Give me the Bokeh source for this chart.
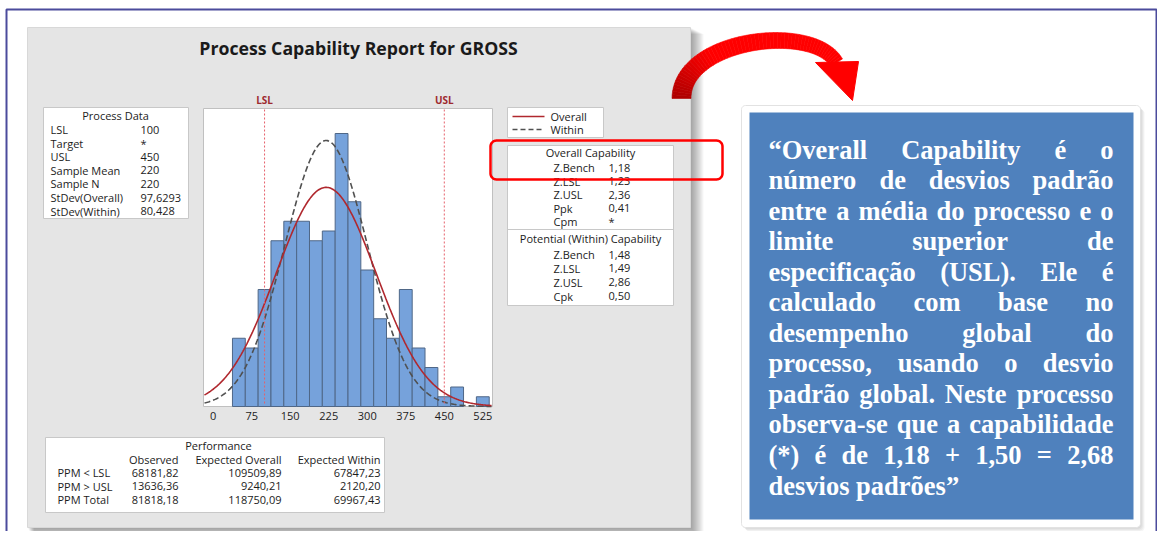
import numpy as np
from bokeh.plotting import figure
from bokeh.models import Range1d, LinearAxis, FixedTicker, ColumnDataSource
from bokeh.core.properties import value
from bokeh.embed import file_html
from bokeh.resources import INLINE

# ------------------------------------------------------------------ data
bin_centers = [50, 75, 100, 125, 150, 175, 200, 225, 250, 275,
               300, 325, 350, 375, 400, 425, 450, 475, 500, 525]
bin_counts = [7, 6, 12, 17, 19, 19, 17, 18, 28, 21,
              14, 9, 7, 12, 6, 4, 1, 2, 0, 1]
bin_width = 25
x_ticks = [0, 75, 150, 225, 300, 375, 450, 525]
spec_names = ["LSL", "USL"]
spec_values = [100, 450]
sample_mean = 220
sample_n = 220
stdev_overall = 97.6293
stdev_within = 80.428

title_text = "Process Capability Report for GROSS"
process_title = "Process Data"
process_labels = ["LSL", "Target", "USL", "Sample Mean", "Sample N",
                  "StDev(Overall)", "StDev(Within)"]
process_values = ["100", "*", "450", "220", "220", "97,6293", "80,428"]
legend_labels = ["Overall", "Within"]
overall_title = "Overall Capability"
overall_labels = ["Z.Bench", "Z.LSL", "Z.USL", "Ppk", "Cpm"]
overall_values = ["1,18", "1,23", "2,36", "0,41", "*"]
within_title = "Potential (Within) Capability"
within_labels = ["Z.Bench", "Z.LSL", "Z.USL", "Cpk"]
within_values = ["1,48", "1,49", "2,86", "0,50"]
perf_title = "Performance"
perf_columns = ["Observed", "Expected Overall", "Expected Within"]
perf_rows = ["PPM < LSL", "PPM > USL", "PPM Total"]
perf_observed = ["68181,82", "13636,36", "81818,18"]
perf_exp_overall = ["109509,89", "9240,21", "118750,09"]
perf_exp_within = ["67847,23", "2120,20", "69967,43"]
note_lines = [
    "\u201cOverall Capability \u00e9 o",
    "n\u00famero de desvios padr\u00e3o",
    "entre a m\u00e9dia do processo e o",
    "limite superior de",
    "especifica\u00e7\u00e3o (USL). Ele \u00e9",
    "calculado com base no",
    "desempenho global do",
    "processo, usando o desvio",
    "padr\u00e3o global. Neste processo",
    "observa-se que a capabilidade",
    "(*) \u00e9 de 1,18 + 1,50 = 2,68",
    "desvios padr\u00f5es\u201d",
]

# ------------------------------------------------------------------ page geometry (reference pixels)
W, H = 1157, 531
OX, OY = 0, 0
BOX_L, BOX_R, BOX_T, BOX_B = 203, 492, 108, 406
PX_AT_0, PX_AT_525 = 212.7, 482.3
KX = (PX_AT_525 - PX_AT_0) / 525.0
KY = 9.75

SANS = "Open Sans"
DARK = "#1c1c1c"

p = figure(width=W, height=H, output_backend="svg", toolbar_location=None,
           x_range=Range1d(OX, OX + W), y_range=Range1d(OY + H, OY),
           x_axis_location=None, y_axis_location=None, min_border=0,
           outline_line_color=None, background_fill_color="white",
           border_fill_color="white")
p.grid.visible = False
p.extra_x_ranges = {"hist": Range1d((OX - PX_AT_0) / KX, (OX + W - PX_AT_0) / KX)}
p.extra_y_ranges = {"cnt": Range1d((BOX_B - (OY + H)) / KY, (BOX_B - OY) / KY)}


def put(xs, ys, texts, size="11px", align="left", color=DARK, font=SANS,
        style="normal", baseline="middle", xr="default", yr="default"):
    p.text(x=xs, y=ys, text=texts, text_font=value(font),
           text_font_size=value(size), text_align=value(align),
           text_baseline=value(baseline), text_color=value(color),
           text_font_style=value(style), x_range_name=xr, y_range_name=yr)


def box(l, r, t, b, fill="white", line="#c8c8c8", lw=1, alpha=1.0):
    p.quad(left=[l], right=[r], top=[t], bottom=[b], fill_color=fill,
           fill_alpha=alpha, line_color=line, line_width=lw)


def rounded(x0, y0, x1, y1, r, n=8):
    xs, ys = [], []
    for cx, cy, a0, a1 in [(x1 - r, y0 + r, -90, 0), (x1 - r, y1 - r, 0, 90),
                           (x0 + r, y1 - r, 90, 180), (x0 + r, y0 + r, 180, 270)]:
        for a in np.linspace(np.radians(a0), np.radians(a1), n):
            xs.append(cx + r * np.cos(a))
            ys.append(cy + r * np.sin(a))
    return xs, ys


# outer frame
p.line([6, 6, 1156, 1156], [560, 9, 9, 560], line_color="#4b4b9c", line_width=2)

# grey report panel with drop shadow
for k in range(1, 14):
    p.quad(left=[27 + k * 0.5], right=[690 + k], top=[27 + k * 0.5], bottom=[527 + k],
           fill_color="black", fill_alpha=0.03, line_color=None)
box(27, 690, 27, 527, fill="#e5e5e5", line="#d8d8d8")

# title
put([358], [47], [title_text], size="17.7px", align="center", style="bold", color="#1a1a1a")

# process data box
box(43, 188, 107, 218)
put([115], [115], [process_title], align="center")
row_y = [129 + 13.6 * i for i in range(len(process_labels))]
put([50] * len(process_labels), row_y, process_labels)
put([140] * len(process_values), row_y, process_values)

# histogram plot box
box(BOX_L, BOX_R, BOX_T, BOX_B, line="#c0c0c0")
p.quad(left=[c - bin_width / 2 for c, n in zip(bin_centers, bin_counts) if n > 0],
       right=[c + bin_width / 2 for c, n in zip(bin_centers, bin_counts) if n > 0],
       bottom=0, top=[n for n in bin_counts if n > 0],
       x_range_name="hist", y_range_name="cnt",
       fill_color="#76a2db", line_color="#4f6787", line_width=1)

x_lo = (BOX_L + 1 - PX_AT_0) / KX
x_hi = (BOX_R - 1 - PX_AT_0) / KX
xs = np.linspace(x_lo, x_hi, 300)
scale = sample_n * bin_width / np.sqrt(2 * np.pi)
y_over = scale / stdev_overall * np.exp(-0.5 * ((xs - sample_mean) / stdev_overall) ** 2)
y_with = scale / stdev_within * np.exp(-0.5 * ((xs - sample_mean) / stdev_within) ** 2)
p.line(xs, y_with, x_range_name="hist", y_range_name="cnt",
       line_color="#505050", line_width=1.6, line_dash="6 3")
p.line(xs, y_over, x_range_name="hist", y_range_name="cnt",
       line_color="#b0282e", line_width=1.6)

# spec limits
p.segment(x0=spec_values, x1=spec_values, y0=[BOX_T + 1] * 2, y1=[BOX_B - 1] * 2,
          x_range_name="hist", line_color="#e5606a", line_width=1, line_dash="2 2")
put(spec_values, [99, 99], spec_names, size="10px", align="center",
    color="#9e2a2f", style="bold", xr="hist")

ax = LinearAxis(x_range_name="hist", fixed_location=BOX_B,
                ticker=FixedTicker(ticks=x_ticks))
ax.axis_line_color = None
ax.major_tick_in = 0
ax.major_tick_out = 0
ax.minor_tick_in = 0
ax.minor_tick_out = 0
ax.major_label_standoff = 5
ax.major_label_text_font = SANS
ax.major_label_text_font_size = "11px"
ax.major_label_text_color = DARK
p.add_layout(ax, "below")

# legend box
box(507, 603, 107, 137)
p.line([512, 544], [116, 116], line_color="#b0282e", line_width=1.6)
p.line([512, 544], [129, 129], line_color="#505050", line_width=1.6, line_dash="5 3")
put([550, 550], [116, 129], legend_labels)

# capability box
box(507, 673, 145, 305)
p.line([507, 673], [229, 229], line_color="#c8c8c8", line_width=1)
put([590], [152], [overall_title], align="center")
oy = [167 + 13.6 * i for i in range(len(overall_labels))]
put([553] * len(oy), oy, overall_labels)
put([608] * len(oy), oy, overall_values)
put([590], [238], [within_title], align="center")
wy = [254 + 13.9 * i for i in range(len(within_labels))]
put([553] * len(wy), wy, within_labels)
put([608] * len(wy), wy, within_values)

# performance box
box(45, 384, 437, 512)
put([218], [445], [perf_title], align="center")
col_right = [178, 281, 380]
put(col_right, [459] * 3, perf_columns, align="right")
py = [472 + 13.5 * i for i in range(len(perf_rows))]
put([57] * 3, py, perf_rows)
put([col_right[0]] * 3, py, perf_observed, align="right")
put([col_right[1]] * 3, py, perf_exp_overall, align="right")
put([col_right[2]] * 3, py, perf_exp_within, align="right")

# red highlight around Z.Bench
rx, ry = rounded(490, 140, 722, 179, 6)
p.patch(rx, ry, fill_color=None, line_color="#ff0000", line_width=2.5)

# curved red arrow
P = np.array([[681, 98], [681, 38], [812, 22], [836, 62]], dtype=float)
t = np.linspace(0, 1, 60)[:, None]
curve = ((1 - t) ** 3) * P[0] + 3 * ((1 - t) ** 2) * t * P[1] + 3 * (1 - t) * t ** 2 * P[2] + t ** 3 * P[3]
deriv = 3 * ((1 - t) ** 2) * (P[1] - P[0]) + 6 * (1 - t) * t * (P[2] - P[1]) + 3 * t ** 2 * (P[3] - P[2])
deriv = deriv / np.linalg.norm(deriv, axis=1)[:, None]
normal = np.column_stack([-deriv[:, 1], deriv[:, 0]])
half = (9.5 - 2.5 * t[:, 0])[:, None]
edge_a = curve + normal * half
edge_b = curve - normal * half
seg_x, seg_y, seg_c = [], [], []
for i in range(len(t) - 1):
    seg_x.append([edge_a[i, 0], edge_a[i + 1, 0], edge_b[i + 1, 0], edge_b[i, 0]])
    seg_y.append([edge_a[i, 1], edge_a[i + 1, 1], edge_b[i + 1, 1], edge_b[i, 1]])
    f = min(1.0, t[i, 0] / 0.3)
    seg_c.append("#%02x0000" % int(175 + 80 * f))
p.patches(seg_x, seg_y, fill_color=seg_c, line_color=seg_c, line_width=0.6)
p.patch([815, 858, 852], [62, 61, 100], fill_color="#ff0000", line_color="#ff0000")

# explanatory note box
for k in range(1, 5):
    sx, sy = rounded(741 + k, 105 + k, 1140 + k, 527 + k, 4)
    p.patch(sx, sy, fill_color="black", fill_alpha=0.04, line_color=None)
cx, cy = rounded(741, 105, 1140, 527, 4)
p.patch(cx, cy, fill_color="white", line_color="#e2e2e2", line_width=1)
box(749, 1133, 112, 519, fill="#4f81bd", line=None)

TB = {" ": .25, "\u201c": .5, "\u201d": .5, "(": .333, ")": .333, "*": .5, "+": .57,
      ",": .25, "-": .333, ".": .25, "=": .57, "C": .722, "E": .667, "L": .667,
      "N": .722, "O": .778, "S": .556, "U": .722, "a": .5, "b": .556, "c": .444,
      "d": .556, "e": .444, "f": .333, "g": .5, "h": .556, "i": .278, "l": .278,
      "m": .833, "n": .556, "o": .5, "p": .556, "q": .556, "r": .444, "s": .389,
      "t": .333, "u": .556, "v": .5, "y": .5, "\u00e1": .5, "\u00e3": .5,
      "\u00e9": .444, "\u00fa": .556, "\u00e7": .444, "\u00f5": .5}
FS = 26.5
TL, TR = 768, 1113


def tw(s):
    return sum(TB.get(ch, 0.5) for ch in s) * FS


wx, wy_, wt, wa = [], [], [], []
for li, line in enumerate(note_lines):
    base = 149 + 30.55 * li
    words = line.split(" ")
    if li == len(note_lines) - 1:
        wx.append(TL); wy_.append(base); wt.append(line); wa.append("left")
        continue
    widths = [tw(w) for w in words]
    gap = (TR - TL - sum(widths)) / (len(words) - 1)
    cur = TL
    for i, (w, wd) in enumerate(zip(words, widths)):
        if i == 0:
            wx.append(TL); wa.append("left")
        elif i == len(words) - 1:
            wx.append(TR); wa.append("right")
        else:
            wx.append(cur + wd / 2); wa.append("center")
        wy_.append(base); wt.append(w)
        cur += wd + gap

src = ColumnDataSource(dict(x=wx, y=wy_, text=wt, align=wa))
p.text(x="x", y="y", text="text", source=src, text_align="align",
       text_baseline=value("alphabetic"), text_font=value("Liberation Serif"),
       text_font_style=value("bold"), text_font_size=value("%.1fpx" % FS),
       text_color=value("white"))

open("out.html", "w").write(file_html(p, INLINE))
